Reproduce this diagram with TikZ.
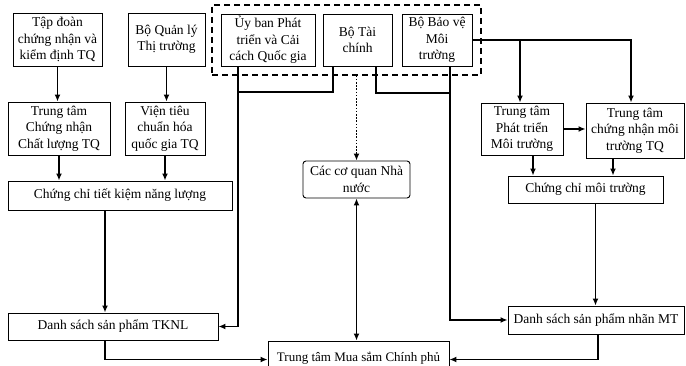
\documentclass[tikz,border=0pt]{standalone}
\usepackage{fontspec}
\setmainfont{Liberation Serif}
\usetikzlibrary{arrows.meta,positioning}

\begin{document}
\begin{tikzpicture}[
    x=1pt, y=-1pt,
    box/.style={draw, line width=0.9pt, align=center, inner sep=1pt,
                font=\fontsize{13.5}{16.5}\selectfont},
    rbox/.style={box, rounded corners=3pt},
    govbox/.style={draw, dashed, dash pattern=on 6pt off 4pt, line width=1.2pt},
    link/.style={line width=1.5pt},
    arrow/.style={-{Latex[length=7pt,width=6pt]}, line width=1.5pt},
    dotarrow/.style={arrow, dash pattern=on 1.6pt off 1.6pt, line width=1.6pt},
    dblarrow/.style={{Latex[length=7pt,width=6pt]}-{Latex[length=7pt,width=6pt]}, line width=1.5pt},
]
\useasboundingbox (0,0) rectangle (686,366);

% Top row
\node[box, minimum width=89pt, minimum height=53pt] (tapdoan) at (57.5,39.5)
    {Tập đoàn\\chứng nhận và\\kiểm định TQ};
\node[box, minimum width=77pt, minimum height=53pt] (boqlt) at (166.5,39.5)
    {Bộ Quản lý\\Thị trường};
\node[govbox, minimum width=269pt, minimum height=70pt] (gov) at (346.5,40) {};
\node[box, minimum width=94pt, minimum height=52pt] (uyban) at (268,40)
    {Ủy ban Phát\\triển và Cải\\cách Quốc gia};
\node[box, minimum width=69pt, minimum height=52pt] (botc) at (357.5,40)
    {Bộ Tài\\chính};
\node[box, minimum width=70pt, minimum height=52pt] (bobv) at (437,40)
    {Bộ Bảo vệ\\Môi\\trường};

% Second row
\node[box, minimum width=102pt, minimum height=53pt] (ttcn) at (59,128.5)
    {Trung tâm\\Chứng nhận\\Chất lượng TQ};
\node[box, minimum width=80pt, minimum height=53pt] (vien) at (165,128.5)
    {Viện tiêu\\chuẩn hóa\\quốc gia TQ};
\node[box, minimum width=82pt, minimum height=52pt] (ttpt) at (522,129)
    {Trung tâm\\Phát triển\\Môi trường};
\node[box, minimum width=98pt, minimum height=55pt] (ttcnmt) at (635,130.5)
    {Trung tâm\\chứng nhận môi\\trường TQ};

% Certificates
\node[box, minimum width=224pt, minimum height=29pt] (cctk) at (120,195.5)
    {Chứng chỉ tiết kiệm năng lượng};
\node[rbox, minimum width=107pt, minimum height=37pt] (ccqnn) at (356.5,179.5)
    {Các cơ quan Nhà\\nước};
\node[box, minimum width=155pt, minimum height=27pt] (ccmt) at (585.5,189.5)
    {Chứng chỉ môi trường};

% Product lists
\node[box, minimum width=210pt, minimum height=27pt] (dstknl) at (113,326.5)
    {Danh sách sản phẩm TKNL};
\node[box, minimum width=176pt, minimum height=28pt] (dsmt) at (596,320)
    {Danh sách sản phẩm nhãn MT};
\node[box, minimum width=181pt, minimum height=34pt, font=\fontsize{13}{16}\selectfont]
    (ttms) at (358.5,358) {Trung tâm Mua sắm Chính phủ};

% Joints
\coordinate (jl) at (238,92);
\coordinate (jr) at (450,93);

% Left branch
\draw[arrow] (tapdoan.south) -- (tapdoan.south |- ttcn.north);
\draw[arrow] (boqlt.south) -- (boqlt.south |- vien.north);
\draw[arrow] (ttcn.south) -- (ttcn.south |- cctk.north);
\draw[arrow] (vien.south) -- (vien.south |- cctk.north);
\draw[arrow] ([xshift=-15pt]cctk.south) -- ([xshift=-15pt]cctk.south |- dstknl.north);
\draw[arrow] ([xshift=-8pt]dstknl.south) |- ([yshift=-1.5pt]ttms.west);

% Middle
\draw[link] ([xshift=-24.5pt]botc.south) |- (jl);
\draw[arrow] (uyban.south -| jl) -- (jl |- dstknl.east) -- (dstknl.east);
\draw[link] ([xshift=18.5pt]botc.south) |- (jr);
\draw[arrow] (bobv.south -| jr) -- (jr |- dsmt.west) -- (dsmt.west);
\draw[dotarrow] (ccqnn.north |- gov.south) -- (ccqnn.north);
\draw[dblarrow] (ccqnn.south) -- (ccqnn.south |- ttms.north);

% Right branch
\draw[arrow] (bobv.east) -| ([xshift=-4pt]ttcnmt.north);
\draw[arrow] ([xshift=-2pt]ttpt.north |- bobv.east) -- ([xshift=-2pt]ttpt.north);
\draw[arrow] (ttpt.east) -- (ttpt.east -| ttcnmt.west);
\draw[arrow] ([xshift=11pt]ttpt.south) -- ([xshift=11pt]ttpt.south |- ccmt.north);
\draw[arrow] ([xshift=-22pt]ttcnmt.south) -- ([xshift=-22pt]ttcnmt.south |- ccmt.north);
\draw[arrow] ([xshift=10pt]ccmt.south) -- ([xshift=10pt]ccmt.south |- dsmt.north);
\draw[arrow] ([xshift=2pt]dsmt.south) |- ([yshift=-1.5pt]ttms.east);

\end{tikzpicture}
\end{document}
